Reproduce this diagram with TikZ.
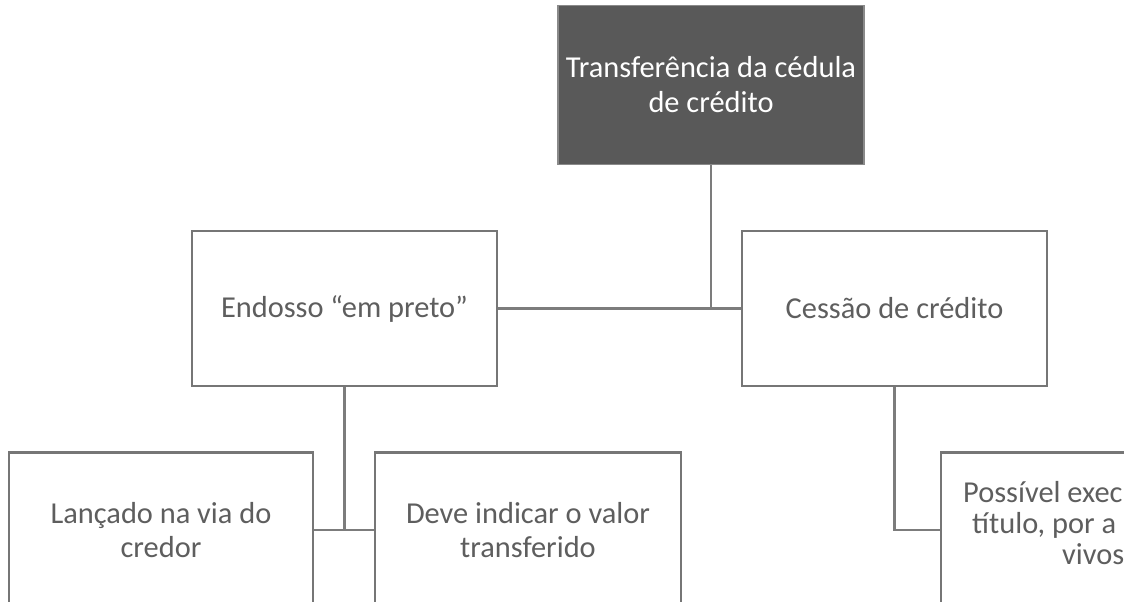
\documentclass[tikz,border=0pt]{standalone}
\usepackage{fontspec}
\setmainfont{Carlito}
\definecolor{boxline}{HTML}{767676}
\definecolor{connline}{HTML}{7C7C7C}
\definecolor{topfill}{HTML}{595959}
\definecolor{topline}{HTML}{8A8A8A}
\definecolor{txtgray}{HTML}{5E5E5E}
\begin{document}
\begin{tikzpicture}[x=1pt,y=-1pt,
  box/.style={draw=boxline, line width=2.2pt, fill=white, minimum width=305pt,
    minimum height=155pt, inner sep=0pt, align=center, text=txtgray,
    font=\fontsize{30.4}{34}\selectfont},
  topbox/.style={box, fill=topfill, draw=topline, line width=1.6pt, text=white,
    minimum width=306pt, minimum height=159pt, font=\fontsize{30.4}{35}\selectfont},
  conn/.style={draw=connline, line width=2.2pt},
  cut/.style={anchor=base west, inner sep=0pt, text=txtgray,
    font=\fontsize{30.4}{31}\selectfont}]
\useasboundingbox (0,0) rectangle (1124,602);
\clip (0,0) rectangle (1124,602);
\fill[white] (0,0) rectangle (1124,602);
% boxes
\node[topbox] (top) at (711,85) {Transferência da cédula\\de crédito};
\node[box] (endo) at (344.5,308.5) {Endosso “em preto”};
\node[box] (cess) at (894.5,308.5) {Cessão de crédito};
\node[box, minimum width=304pt] (lanc) at (161,530) {Lançado na via do\\credor};
\node[box, minimum width=306pt] (deve) at (528,530) {Deve indicar o valor\\transferido};
\node[box, minimum width=306pt] (poss) at (1094,530) {};
\node[cut] (p1) at (963,502) {Possível exec};
\node[cut] (p2) at (972,533) {título, por a};
\node[cut] (p3) at (1062,564) {vivos};
% connectors
\coordinate (j1) at (top.south |- endo.east);
\draw[conn] (top.south) -- (j1);
\draw[conn] (endo.east) -- (cess.west);
\coordinate (j2) at (endo.south |- lanc.east);
\draw[conn] (endo.south) -- (j2);
\draw[conn] (lanc.east) -- (deve.west);
\draw[conn] (cess.south) |- (poss.west);
\end{tikzpicture}
\end{document}
